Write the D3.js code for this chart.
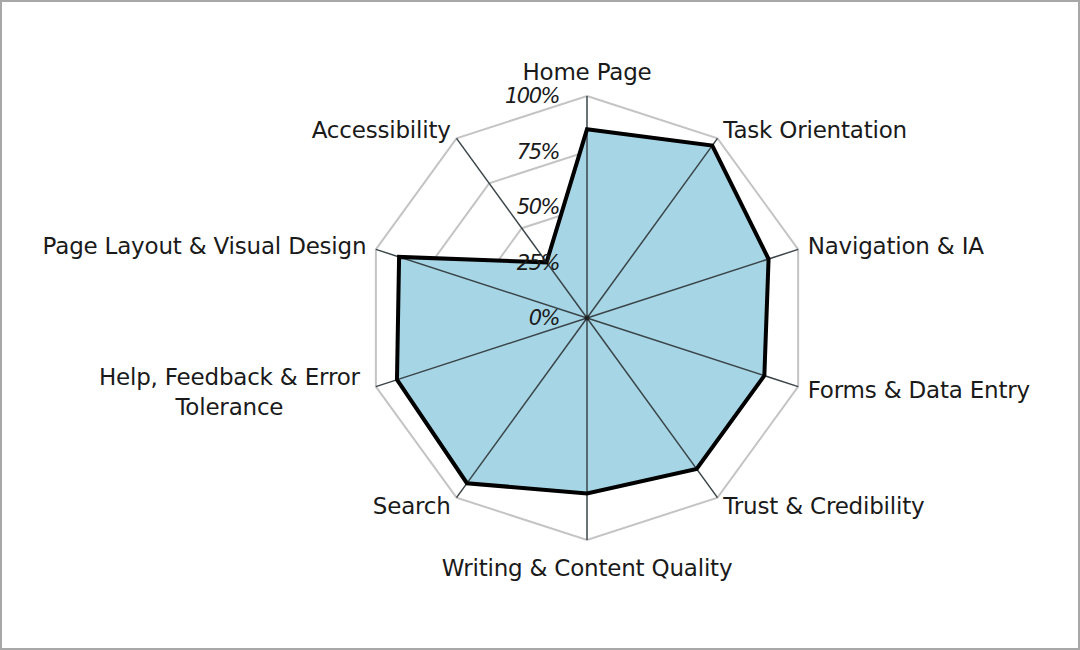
<!DOCTYPE html>
<html>
	<head>
		<meta http-equiv="Content-Type" content="text/html;charset=utf-8"/>
		<title>Radar</title>
		<script src="https://d3js.org/d3.v7.min.js"></script>
		<style type="text/css">
			body { margin: 0; background: #fff; }
			.grid { fill: none; stroke: #c4c4c4; stroke-width: 2; }
			.axis { stroke: #3a4448; stroke-width: 1.5; }
			.area { fill: #a6d6e5; stroke: none; }
			.outline { fill: none; stroke: #000; stroke-width: 4; stroke-linejoin: miter; }
			.cat { font-family: "DejaVu Sans", sans-serif; font-size: 23px; letter-spacing: -0.2px; fill: #1a1a1a; }
			.tick { font-family: "DejaVu Sans", sans-serif; font-style: italic; font-size: 21px; letter-spacing: -1.5px; fill: #1a1a1a; }
		</style>
	</head>
	<body>
		<script type="text/javascript">

			//Categories, clockwise from the top
			var categories = ["Home Page", "Task Orientation", "Navigation & IA", "Forms & Data Entry",
				"Trust & Credibility", "Writing & Content Quality", "Search",
				"Help, Feedback & Error|Tolerance", "Page Layout & Visual Design", "Accessibility"];

			//Scores (share of 100%)
			var values = [0.85, 0.96, 0.86, 0.84, 0.84, 0.79, 0.92, 0.90, 0.89, 0.31];

			var ticks = [0, 0.25, 0.5, 0.75, 1];
			var tickLabels = ["0%", "25%", "50%", "75%", "100%"];

			var w = 1080,
				h = 650,
				cx = 587,
				cy = 318;

			var r = d3.scaleLinear().domain([0, 1]).range([0, 222]);
			var angle = d3.scaleLinear().domain([0, categories.length]).range([0, 2 * Math.PI]);

			function pt(i, v) {
				var a = angle(i);
				return [r(v) * Math.sin(a), -r(v) * Math.cos(a)];
			}

			var svg = d3.select("body").append("svg")
						.attr("width", w)
						.attr("height", h);

			//Frame
			svg.append("rect")
				.attr("x", 1).attr("y", 1)
				.attr("width", w - 2).attr("height", h - 2)
				.attr("fill", "none")
				.attr("stroke", "#a8a8a8")
				.attr("stroke-width", 2);

			var g = svg.append("g").attr("transform", "translate(" + cx + "," + cy + ")");

			var radial = d3.lineRadial()
				.angle(function(d, i) { return angle(i); })
				.radius(function(d) { return r(d); })
				.curve(d3.curveLinearClosed);

			//Grid rings
			g.selectAll("path.grid")
				.data(ticks.slice(1))
				.enter()
				.append("path")
				.attr("class", "grid")
				.attr("d", function(t) { return radial(categories.map(function() { return t; })); });

			//Filled area
			g.append("path")
				.attr("class", "area")
				.attr("d", radial(values));

			//Spokes
			g.selectAll("line.axis")
				.data(categories)
				.enter()
				.append("line")
				.attr("class", "axis")
				.attr("x1", 0).attr("y1", 0)
				.attr("x2", function(d, i) { return pt(i, 1)[0]; })
				.attr("y2", function(d, i) { return pt(i, 1)[1]; });

			g.append("circle").attr("r", 2.5).attr("fill", "#222");

			//Outline
			g.append("path")
				.attr("class", "outline")
				.attr("d", radial(values));

			//Tick labels along the top spoke
			g.selectAll("text.tick")
				.data(ticks)
				.enter()
				.append("text")
				.attr("class", "tick")
				.attr("x", -28)
				.attr("y", function(t) { return -r(t); })
				.attr("dy", "0.35em")
				.attr("text-anchor", "end")
				.text(function(t, i) { return tickLabels[i]; });

			//Category labels
			var labels = g.selectAll("text.cat")
				.data(categories)
				.enter()
				.append("text")
				.attr("class", "cat")
				.attr("text-anchor", function(d, i) {
					var s = Math.sin(angle(i));
					return Math.abs(s) < 0.01 ? "middle" : (s > 0 ? "start" : "end");
				})
				.attr("transform", function(d, i) {
					var a = angle(i);
					var rr = r(1) + 10;
					var x = rr * Math.sin(a), y = -rr * Math.cos(a);
					if (Math.abs(Math.sin(a)) < 0.01) y += Math.cos(a) > 0 ? -14 : 18;
					return "translate(" + x + "," + y + ")";
				});

			labels.each(function(d, i) {
				var lines = d.split("|");
				var t = d3.select(this);
				if (lines.length === 1) {
					t.append("tspan").attr("x", 0).attr("dy", "0.35em").text(d);
				} else {
					t.attr("text-anchor", "middle");
					lines.forEach(function(l, j) {
						t.append("tspan")
							.attr("x", -137)
							.attr("y", -13 + j * 30)
							.attr("dy", "0.35em")
							.text(l);
					});
				}
			});

		</script>
	</body>
</html>
